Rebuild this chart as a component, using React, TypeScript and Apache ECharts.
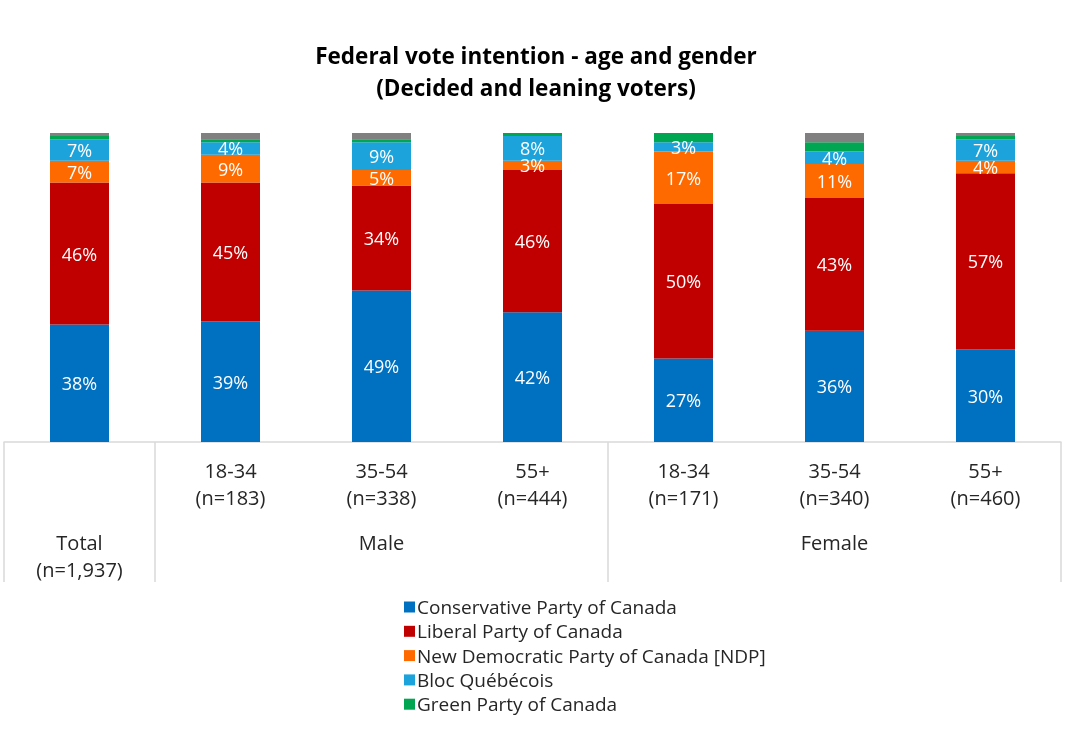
import React, { useEffect, useRef } from "react";
import * as echarts from "echarts";

const subLabels = ["", "18-34\n(n=183)", "35-54\n(n=338)", "55+\n(n=444)", "18-34\n(n=171)", "35-54\n(n=340)", "55+\n(n=460)"];
const groupLabels = ["Total\n(n=1,937)", "", "Male", "", "", "Female", ""];
const groupStarts = [0, 1, 4];

const conservative = [38, 39, 49, 42, 27, 36, 30];
const liberal = [46, 45, 34, 46, 50, 43, 57];
const ndp = [7, 9, 5, 3, 17, 11, 4];
const bloc = [7, 4, 9, 8, 3, 4, 7];
const green = [1, 1, 1, 1, 3, 3, 1];
const other = [1, 2, 2, 0, 0, 3, 1];

const FONT = "'Open Sans', Lato, sans-serif";

export default function App() {
  const ref = useRef<HTMLDivElement>(null);
  useEffect(() => {
    if (!ref.current) return;
    const chart = echarts.init(ref.current, undefined, { renderer: "svg" });
    const label = (show: boolean) => ({
      show,
      position: "inside",
      formatter: "{c}%",
      color: "#ffffff",
      fontSize: 18,
      lineHeight: 14,
      fontFamily: FONT,
    });
    const mk = (name: string, data: number[], color: string, showLabel: boolean) => ({
      name,
      type: "bar",
      stack: "total",
      data,
      barWidth: 59,
      itemStyle: { color },
      label: label(showLabel),
    });
    chart.setOption({
      animation: false,
      textStyle: { fontFamily: FONT },
      title: {
        text: "Federal vote intention - age and gender\n(Decided and leaning voters)",
        left: 531,
        textAlign: "center",
        top: 34,
        textStyle: { fontSize: 22.5, fontWeight: "bold", color: "#000", lineHeight: 32, fontFamily: FONT },
      },
      legend: {
        orient: "vertical",
        left: 399,
        top: 592,
        height: 135,
        itemWidth: 11,
        itemHeight: 11,
        itemGap: 4.3,
        data: ["Conservative Party of Canada", "Liberal Party of Canada", "New Democratic Party of Canada [NDP]", "Bloc Québécois", "Green Party of Canada"],
        textStyle: { fontSize: 19, color: "#262626", fontFamily: FONT, lineHeight: 20, padding: [0, 0, 0, -3] },
        icon: "rect",
      },
      grid: { left: 4, right: 18, top: 133, bottom: 290 },
      xAxis: [
        {
          type: "category",
          data: subLabels,
          position: "bottom",
          axisLine: { lineStyle: { color: "#d9d9d9", width: 1.5 } },
          axisTick: {
            show: true,
            length: 140,
            interval: (i: number) => groupStarts.includes(i),
            lineStyle: { color: "#d9d9d9", width: 1.5 },
          },
          axisLabel: { interval: 0, margin: 15, fontSize: 20, lineHeight: 27, color: "#262626", fontFamily: FONT },
        },
        {
          type: "category",
          data: groupLabels,
          position: "bottom",
          axisLine: { show: false },
          axisTick: { show: false },
          axisLabel: { interval: 0, margin: 87, fontSize: 20, lineHeight: 27, color: "#262626", fontFamily: FONT },
        },
      ],
      yAxis: { type: "value", min: 0, max: 100, show: false },
      series: [
        mk("Conservative Party of Canada", conservative, "#0070C0", true),
        mk("Liberal Party of Canada", liberal, "#C00000", true),
        mk("New Democratic Party of Canada [NDP]", ndp, "#FF6A00", true),
        mk("Bloc Québécois", bloc, "#1CA3DC", true),
        mk("Green Party of Canada", green, "#00A651", false),
        mk("Other", other, "#808080", false),
      ],
    });
    return () => chart.dispose();
  }, []);
  return <div ref={ref} style={{ position: "fixed", left: 0, top: 0, width: 1079, height: 732 }} />;
}
